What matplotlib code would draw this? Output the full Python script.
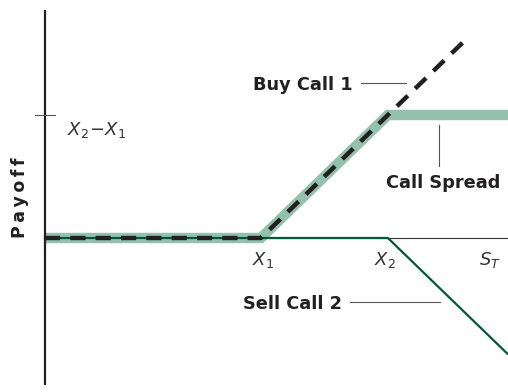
import matplotlib
matplotlib.use("Agg")
import matplotlib.pyplot as plt

# payoff diagram values (strike gap X2 - X1 = 1)
x1 = 1.7
x2 = 2.7
s_right = 3.65

spread_s = [0, x1, x2, s_right]
spread_payoff = [0, 0, 1, 1]

buy_call_s = [0, x1, 3.31]
buy_call_payoff = [0, 0, 1.61]

sell_call_s = [0, x1, x2, 3.64]
sell_call_payoff = [0, 0, 0, -0.94]

strike_labels = ["$X_1$", "$X_2$", "$S_T$"]
strike_pos = [x1 + 0.02, x2 - 0.02, 3.5]

plt.rcParams['mathtext.fontset'] = 'dejavusans'

fig = plt.figure(figsize=(5.08, 3.92), dpi=100)
ax = fig.add_axes([0, 0, 1, 1])
ax.set_xlim(-45 / 127, 463 / 127)
ax.set_ylim(-154 / 123, 238 / 123)
ax.axis('off')

light_green = '#94c0ae'
dark_green = '#00593b'
ink = '#231f20'

# axes lines
ax.plot([0, 0], [-1.195, 1.854], color=ink, lw=1.6, solid_capstyle='butt', zorder=5)
ax.plot([0, s_right], [0, 0], color='#333333', lw=0.8, zorder=1)
ax.plot([-0.08, 0.08], [1, 1], color='#555555', lw=0.8, zorder=5)

# payoff lines
ax.plot(spread_s, spread_payoff, color=light_green, lw=7.5,
        solid_joinstyle='miter', solid_capstyle='butt', zorder=2)
ax.plot(sell_call_s, sell_call_payoff, color=dark_green, lw=1.6, zorder=3)
ax.plot(buy_call_s, buy_call_payoff, color=ink, lw=3.2, dashes=(3.4, 2.3),
        dash_capstyle='butt', zorder=4)

# labels
heavy = dict(fontsize=12.8, fontweight='heavy', color=ink, family='DejaVu Sans')
ax.text(2.425, 1.244, "Buy Call 1", ha='right', va='center', **heavy)
ax.plot([2.49, 2.84], [1.26, 1.26], color='#555555', lw=0.8)

ax.text(3.134, 0.45, "Call Spread", ha='center', va='center', **heavy)
ax.plot([3.102, 3.102], [0.92, 0.585], color='#555555', lw=0.8)

ax.text(2.339, -0.537, "Sell Call 2", ha='right', va='center', **heavy)
ax.plot([2.40, 3.11], [-0.52, -0.52], color='#555555', lw=0.8)

for lab, pos in zip(strike_labels, strike_pos):
    ax.text(pos, -0.18, lab, ha='center', va='center', fontsize=13, color='#333333')

ax.text(0.17, 0.88, "$X_2\\!-\\!X_1$", ha='left', va='center', fontsize=13, color='#333333')

ax.text(-0.197, 0.325, "P\u2009a\u2009y\u2009o\u2009f\u2009f", rotation=90, ha='center', va='center',
        fontsize=12.5, fontweight='heavy', color=ink)

fig.savefig("out.png", dpi=100)
